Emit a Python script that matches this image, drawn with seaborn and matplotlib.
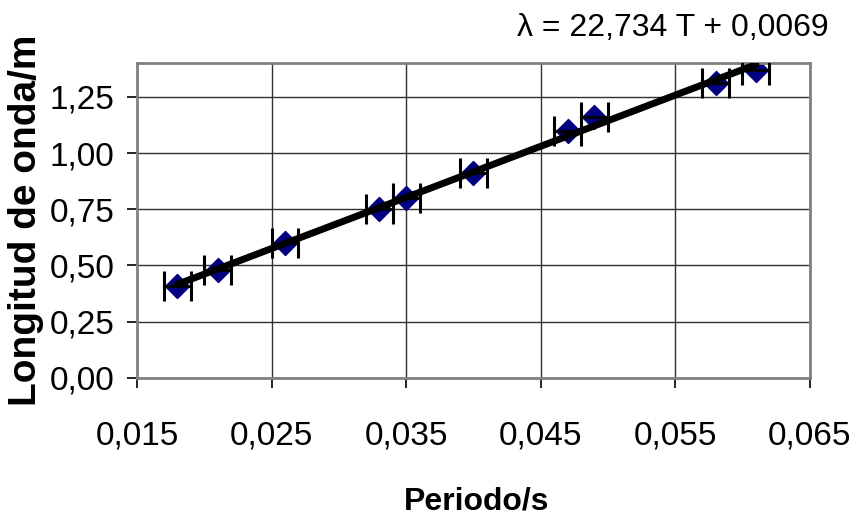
import numpy as np
import pandas as pd
import seaborn as sns
import matplotlib.pyplot as plt
from matplotlib.ticker import FuncFormatter

sns.set_style("white")
plt.rcParams['font.family'] = ['Liberation Sans', 'DejaVu Sans']
plt.rcParams['text.color'] = 'black'
plt.rcParams['axes.labelcolor'] = 'black'
plt.rcParams['xtick.color'] = 'black'
plt.rcParams['ytick.color'] = 'black'

periodo = [0.018, 0.021, 0.026, 0.033, 0.035, 0.040, 0.047, 0.049, 0.058, 0.061]
longitud = [0.41, 0.48, 0.60, 0.75, 0.80, 0.91, 1.10, 1.16, 1.31, 1.37]
err_t = [0.001] * len(periodo)
pendiente = 22.734
ordenada = 0.0069

df = pd.DataFrame({'T': periodo, 'L': longitud})

fig = plt.figure(figsize=(8.56, 5.17), dpi=100)
ax = fig.add_axes([0.160, 0.269, 0.786, 0.609])

ax.grid(True, color='#303030', linewidth=1)
ax.set_axisbelow(True)

ax.errorbar(df['T'], df['L'], xerr=err_t, fmt='none', ecolor='black',
            elinewidth=2, capsize=11, capthick=2.2, zorder=3)
sns.scatterplot(data=df, x='T', y='L', marker='D', s=150, color='#000080',
                edgecolor='#000080', ax=ax, zorder=2)

tx = np.array([min(periodo), max(periodo)])
ax.plot(tx, pendiente * tx + ordenada, color='black', linewidth=5,
        solid_capstyle='round', zorder=4)

ax.set_xlim(0.015, 0.065)
ax.set_ylim(0, 1.4)
ax.set_xticks(np.arange(0.015, 0.066, 0.01))
ax.set_yticks(np.arange(0, 1.26, 0.25))
ax.xaxis.set_major_formatter(FuncFormatter(lambda v, p: f"{v:.3f}".replace('.', ',')))
ax.yaxis.set_major_formatter(FuncFormatter(lambda v, p: f"{v:.2f}".replace('.', ',')))
ax.tick_params(axis='both', labelsize=24, length=7, width=1.2, color='black',
               direction='out', bottom=True, left=True)
ax.tick_params(axis='x', pad=24)
ax.tick_params(axis='y', pad=9)

for s in ax.spines.values():
    s.set_color('#808080')
    s.set_linewidth(2)

ax.set_xlabel('Periodo/s', fontsize=23, fontweight='bold')
ax.xaxis.set_label_coords(0.505, -0.345)
ax.set_ylabel('Longitud de onda/m', fontsize=28, fontweight='bold', labelpad=4)

fig.text(0.968, 0.945, 'λ = 22,734 T + 0,0069', fontsize=23, ha='right', va='center')

fig.savefig('out.png', dpi=100)
